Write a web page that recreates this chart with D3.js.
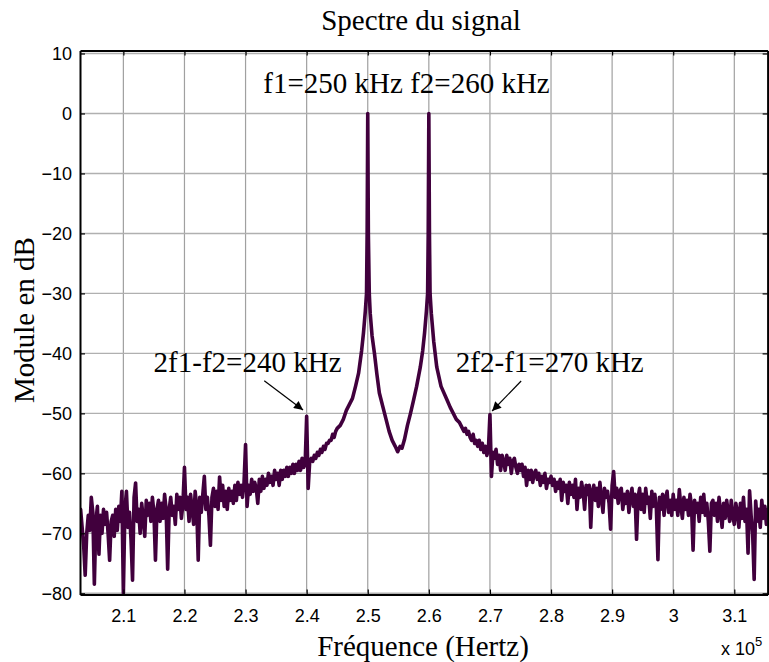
<!DOCTYPE html>
<html>
<head>
<meta charset="utf-8">
<script src="https://cdn.jsdelivr.net/npm/d3@7"></script>
<style>
  body { margin: 0; background: #fff; }
  svg { display: block; }
</style>
</head>
<body>
<svg id="chart" width="769" height="662"></svg>
<script>
// Spectre du signal - [frequency kHz, module dB]

const leftSpectrum = [
  [203,-66],[203.25,-69],[203.5,-72],[203.75,-77],[204,-70],[204.25,-67],[204.5,-69.5],[204.75,-64],
  [205,-66.5],[205.25,-78.5],[205.5,-68],[205.75,-65.5],[206,-73.5],[206.25,-67],[206.5,-70],[206.75,-66],
  [207,-68.5],[207.25,-66.5],[207.5,-70],[207.75,-74.5],[208,-68],[208.25,-67],[208.5,-70.5],[208.75,-66],
  [209,-69.5],[209.25,-65.5],[209.5,-68],[209.75,-63],[210,-80],[210.25,-66],[210.5,-63],[210.75,-69],
  [211,-66.5],[211.25,-71],[211.5,-77.8],[211.75,-64],[212,-61.6],[212.25,-68],[212.5,-66],[212.75,-70],
  [213,-65],[213.25,-67.5],[213.5,-70.5],[213.75,-64.5],[214,-67],[214.25,-65],[214.5,-68],[214.75,-64],
  [215,-66.5],[215.25,-74.5],[215.5,-66],[215.75,-64.5],[216,-68],[216.25,-65],[216.5,-67.5],[216.75,-63.5],
  [217,-66],[217.25,-76],[217.5,-66],[217.75,-64],[218,-67],[218.25,-65.5],[218.5,-68.5],[218.75,-63.5],
  [219,-66],[219.25,-64],[219.5,-67.5],[219.75,-65],[220,-59],[220.25,-66],[220.5,-64],[220.75,-68],
  [221,-63.5],[221.25,-66],[221.5,-68.5],[221.75,-63],[222,-65.5],[222.25,-74.5],[222.5,-64],[222.75,-66.5],
  [223,-63.5],[223.25,-60.5],[223.5,-66],[223.75,-64],[224,-67],[224.25,-72],[224.5,-64],[224.75,-62.5],
  [225,-65.5],[225.25,-63],[225.5,-66],[225.75,-60.6],[226,-64.5],[226.25,-62],[226.5,-65.5],[226.75,-63],
  [227,-66],[227.25,-62.5],[227.5,-64.5],[227.75,-63],[228,-65],[228.25,-62],[228.5,-64.5],[228.75,-61.5],
  [229,-63.5],[229.25,-62],[229.5,-64],[229.75,-61.5],[230,-55.2],[230.25,-65.5],[230.5,-62],[230.75,-63.5],
  [231,-61],[231.25,-63],[231.5,-61.5],[231.75,-62.5],[232,-65],[232.25,-61],[232.5,-63],[232.75,-60.5],
  [233,-62.5],[233.25,-61],[233.5,-62],[233.75,-60],[234,-61.5],[234.25,-60.5],[234.5,-62],[234.75,-59.5],
  [235,-61],[235.25,-60],[235.5,-62],[235.75,-59.5],[236,-61],[236.25,-59.5],[236.5,-60.5],[236.75,-59],
  [237,-60.5],[237.25,-59],[237.5,-60],[237.75,-58.5],[238,-60],[238.25,-58.5],[238.5,-59.5],[238.75,-58],
  [239,-59.5],[239.25,-57.5],[239.5,-59],[239.75,-58.5],[240,-50.5],[240.25,-62.5],[240.5,-58],[240.75,-57.5],
  [241,-58],[241.25,-57],[241.5,-57.5],[241.75,-56.5],[242,-57],[242.25,-56],[242.5,-56.5],[242.75,-55.5],
  [243,-56],[243.25,-55],[243.5,-55],[243.75,-54.5],[244,-54.5],[244.25,-53.5],[244.5,-54],[244.75,-53],
  [245,-52.5]
];

const peakSpectrum = [
  [245.5,-52],[246,-51],[246.5,-49.5],[247,-48.5],[247.5,-47.5],[248,-45.5],[248.5,-43.3],[249,-39.5],
  [249.3,-36.6],[249.6,-33],[249.8,-30],[249.9,-20],[250,0],[250.1,-20],[250.25,-30],[250.4,-33.3],
  [250.7,-37],[251.1,-40],[251.5,-43.5],[251.9,-46.6],[252.5,-49],[253,-51],[253.5,-53],[254,-54.5],
  [254.5,-55.5],[254.9,-56.4],[255.3,-55.5],[255.6,-55.8],[256,-54.4],[256.5,-52],[257,-50],[257.5,-47.8],
  [258,-45.5],[258.6,-42.3],[259,-39.5],[259.3,-36.6],[259.6,-33],[259.8,-30],[259.9,-20],[260,0],
  [260.1,-20],[260.2,-30],[260.4,-33.3],[260.8,-38],[261.3,-42.3],[262,-45.5],[263,-47.8],[263.5,-49],
  [264,-50],[264.5,-51]
];

const rightSpectrum = [
  [265,-51.5],[265.25,-52],[265.5,-52.5],[265.75,-53],[266,-52.5],[266.25,-53.5],[266.5,-53],[266.75,-54],
  [267,-54.5],[267.25,-53.5],[267.5,-55],[267.75,-54.5],[268,-55.5],[268.25,-54.5],[268.5,-56],[268.75,-55],
  [269,-56.5],[269.25,-55.5],[269.5,-57],[269.75,-56],[270,-50.2],[270.25,-60.5],[270.5,-56.5],[270.75,-57.5],
  [271,-56],[271.25,-58.5],[271.5,-57],[271.75,-59.5],[272,-57],[272.25,-58],[272.5,-59.5],[272.75,-57],
  [273,-58.5],[273.25,-57.5],[273.5,-60],[273.75,-58],[274,-57.5],[274.25,-59],[274.5,-60],[274.75,-58.5],
  [275,-59.5],[275.25,-58.5],[275.5,-60.5],[275.75,-59],[276,-62],[276.25,-59.5],[276.5,-61],[276.75,-59.5],
  [277,-61.5],[277.25,-60],[277.5,-59.5],[277.75,-61],[278,-60],[278.25,-62],[278.5,-60.5],[278.75,-61.5],
  [279,-60],[279.25,-62.5],[279.5,-61],[279.75,-61.5],[280,-60.5],[280.25,-62],[280.5,-61],[280.75,-63],
  [281,-61.5],[281.25,-62.5],[281.5,-61],[281.75,-64.5],[282,-61.5],[282.25,-63],[282.5,-62],[282.75,-65],
  [283,-61.5],[283.25,-63.5],[283.5,-62],[283.75,-64],[284,-61],[284.25,-66],[284.5,-62.5],[284.75,-64],
  [285,-61.5],[285.25,-63],[285.5,-66],[285.75,-62],[286,-63.5],[286.25,-62],[286.5,-69],[286.75,-63],
  [287,-62],[287.25,-64.5],[287.5,-62.5],[287.75,-65.5],[288,-61.5],[288.25,-64],[288.5,-66.5],[288.75,-62.5],
  [289,-64],[289.25,-63],[289.5,-65],[289.75,-69.3],[290,-62],[290.25,-59.7],[290.5,-64],[290.75,-62.5],
  [291,-65],[291.25,-63],[291.5,-62.5],[291.75,-66],[292,-63.5],[292.25,-65],[292.5,-63],[292.75,-66.5],
  [293,-64],[293.25,-62.5],[293.5,-65.5],[293.75,-63.5],[294,-71],[294.25,-64],[294.5,-62.5],[294.75,-66],
  [295,-63.5],[295.25,-66.5],[295.5,-62.5],[295.75,-65],[296,-64],[296.25,-67.5],[296.5,-63],[296.75,-65.5],
  [297,-63.5],[297.25,-66],[297.5,-74.4],[297.75,-64],[298,-66],[298.25,-63.5],[298.5,-67],[298.75,-64],
  [299,-63],[299.25,-66.5],[299.5,-64.5],[299.75,-67],[300,-63.5],[300.25,-66],[300.5,-64.5],[300.75,-67],
  [301,-62.7],[301.25,-65.5],[301.5,-67.5],[301.75,-64],[302,-66],[302.25,-64.5],[302.5,-67],[302.75,-63.5],
  [303,-65.5],[303.25,-72.8],[303.5,-64.5],[303.75,-66.5],[304,-65],[304.25,-68],[304.5,-64],[304.75,-66.5],
  [305,-63.5],[305.25,-67],[305.5,-65],[305.75,-68],[306,-73],[306.25,-65],[306.5,-64.5],[306.75,-67],
  [307,-65],[307.25,-68],[307.5,-64],[307.75,-66.5],[308,-69],[308.25,-65],[308.5,-67.5],[308.75,-64.5],
  [309,-66.5],[309.25,-68],[309.5,-64.5],[309.75,-67],[310,-68.5],[310.25,-65],[310.5,-66.5],[310.75,-69],
  [311,-65],[311.25,-67.5],[311.5,-64],[311.75,-68],[312,-66],[312.25,-73.3],[312.5,-62.9],[312.75,-67],
  [313,-70],[313.25,-77.7],[313.5,-64.6],[313.75,-68],[314,-66],[314.25,-69],[314.5,-64.5],[314.75,-67.5],
  [315,-65.5],[315.25,-68.5],[315.5,-66]
];

const xTickKHz = [210,220,230,240,250,260,270,280,290,300,310];
const xTickLabels = ["2.1","2.2","2.3","2.4","2.5","2.6","2.7","2.8","2.9","3","3.1"];
const yTicks = [10,0,-10,-20,-30,-40,-50,-60,-70,-80];
const annotations = ["f1=250 kHz f2=260 kHz", "2f1-f2=240 kHz", "2f2-f1=270 kHz"];

const serif = "'Liberation Serif','Times New Roman',serif";
const sans = "'Liberation Sans',Arial,sans-serif";
const lineColor = "#41003d";

const svg = d3.select("#chart");

const x = d3.scaleLinear().domain([202.9, 315.45]).range([80, 767.6]);
const y = d3.scaleLinear().domain([-80.2, 10.5]).range([594.5, 50.5]);
const [x0, x1] = x.range();
const [yb, yt] = y.range();

// grid
svg.append("g").selectAll("line").data(xTickKHz).join("line")
  .attr("x1", d => x(d)).attr("x2", d => x(d))
  .attr("y1", yt).attr("y2", yb)
  .attr("stroke", "#a0a0a0").attr("stroke-width", 1.2);
svg.append("g").selectAll("line").data(yTicks).join("line")
  .attr("x1", x0).attr("x2", x1)
  .attr("y1", d => y(d)).attr("y2", d => y(d))
  .attr("stroke", "#b0b0b0").attr("stroke-width", 1.4);

// spectrum
svg.append("clipPath").attr("id", "plot-clip")
  .append("rect").attr("x", x0).attr("y", yt).attr("width", x1 - x0).attr("height", yb - yt);

const points = leftSpectrum.concat(peakSpectrum, rightSpectrum);
const line = d3.line().x(d => x(d[0])).y(d => y(d[1]));

svg.append("path")
  .datum(points)
  .attr("clip-path", "url(#plot-clip)")
  .attr("d", line)
  .attr("fill", "none")
  .attr("stroke", lineColor)
  .attr("stroke-width", 3.6)
  .attr("stroke-linejoin", "round")
  .attr("stroke-linecap", "round");

// axes (box with inward ticks)
svg.append("g").attr("transform", `translate(0,${yb})`)
  .call(d3.axisBottom(x).tickValues(xTickKHz).tickFormat((d, i) => xTickLabels[i])
    .tickSizeInner(-5).tickSizeOuter(0).tickPadding(14.5));
svg.append("g").attr("transform", `translate(${x0},0)`)
  .call(d3.axisLeft(y).tickValues(yTicks).tickSizeInner(-5).tickSizeOuter(0).tickPadding(8));
svg.append("g").attr("transform", `translate(0,${yt})`)
  .call(d3.axisTop(x).tickValues(xTickKHz).tickFormat("").tickSizeInner(-5).tickSizeOuter(0));
svg.append("g").attr("transform", `translate(${x1},0)`)
  .call(d3.axisRight(y).tickValues(yTicks).tickFormat("").tickSizeInner(-5).tickSizeOuter(0));

svg.selectAll(".domain").attr("stroke", "#000").attr("stroke-width", 2);
svg.selectAll(".tick line").attr("stroke", "#000").attr("stroke-width", 1.2);
svg.selectAll(".tick text").attr("font-family", sans).attr("font-size", 18).attr("fill", "#000");

// titles
svg.append("text").attr("x", 421).attr("y", 30).attr("text-anchor", "middle")
  .attr("font-family", serif).attr("font-size", 29).text("Spectre du signal");
svg.append("text").attr("x", 423).attr("y", 656).attr("text-anchor", "middle")
  .attr("font-family", serif).attr("font-size", 29).text("Fréquence (Hertz)");
svg.append("text").attr("transform", "translate(34,320) rotate(-90)").attr("text-anchor", "middle")
  .attr("font-family", serif).attr("font-size", 29).text("Module en dB");

const expo = svg.append("text").attr("x", 721).attr("y", 655)
  .attr("font-family", sans).attr("font-size", 18);
expo.append("tspan").text("x 10");
expo.append("tspan").attr("font-size", 13).attr("dy", -9).text("5");

// annotations
const ann = svg.append("g").attr("font-family", serif).attr("font-size", 29).attr("text-anchor", "middle");
ann.append("text").attr("x", x(256.35)).attr("y", y(3.4)).text(annotations[0]);
ann.append("text").attr("x", x(230.33)).attr("y", y(-43.15)).text(annotations[1]);
ann.append("text").attr("x", x(279.8)).attr("y", y(-43.1)).text(annotations[2]);

svg.append("defs").append("marker")
  .attr("id", "arrow").attr("viewBox", "0 0 10 10").attr("refX", 10).attr("refY", 5)
  .attr("markerWidth", 14).attr("markerHeight", 9).attr("markerUnits", "userSpaceOnUse")
  .attr("orient", "auto")
  .append("path").attr("d", "M0,0L10,5L0,10z").attr("fill", "#000");

const arrows = [
  { from: [233.06, -44.55], to: [239.41, -49.43] },
  { from: [275.11, -44.6], to: [270.36, -49.6] }
];
svg.append("g").selectAll("line").data(arrows).join("line")
  .attr("x1", d => x(d.from[0])).attr("y1", d => y(d.from[1]))
  .attr("x2", d => x(d.to[0])).attr("y2", d => y(d.to[1]))
  .attr("stroke", "#000").attr("stroke-width", 1.2)
  .attr("marker-end", "url(#arrow)");
</script>
</body>
</html>
